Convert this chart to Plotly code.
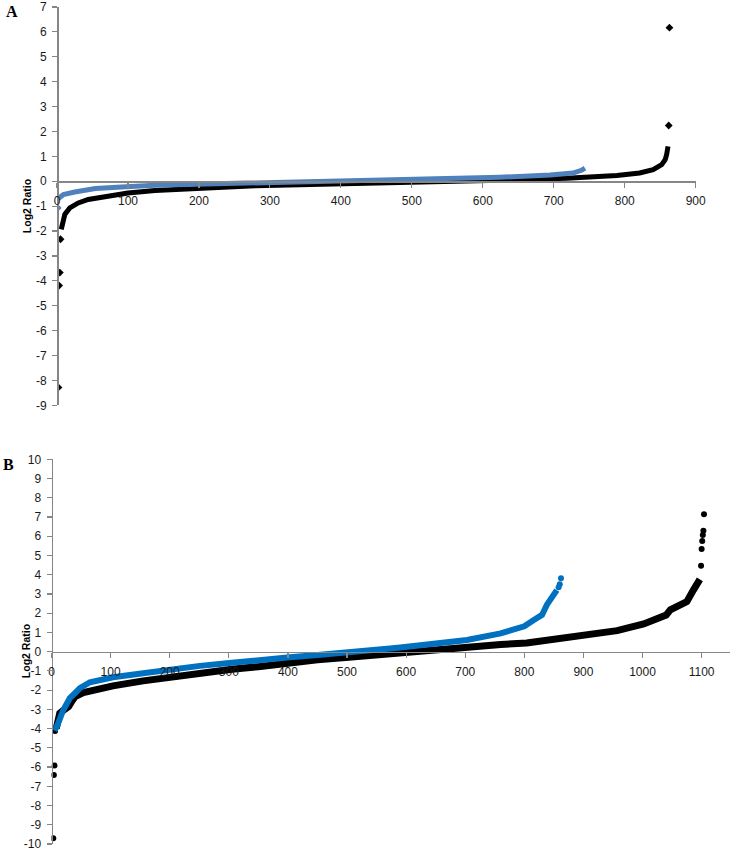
import plotly.graph_objects as go

# ---------------- Panel A data (index, log2 ratio) ----------------
a_black_x = [6, 8, 11, 18, 30, 44, 68, 100, 138, 185, 232, 279, 342, 436, 530, 624, 718, 789, 821, 840, 852, 857, 859, 861]
a_black_y = [-1.93, -1.66, -1.33, -1.07, -0.87, -0.73, -0.60, -0.47, -0.37, -0.29, -0.24, -0.18, -0.14, -0.09, -0.03, 0.04, 0.12, 0.23, 0.33, 0.47, 0.67, 0.87, 1.07, 1.40]
a_black_out_x = [2, 3, 4, 5, 862, 863]
a_black_out_y = [-8.28, -4.19, -3.67, -2.33, 2.24, 6.17]

a_blue_x = [2, 9, 25, 54, 91, 138, 209, 279, 342, 436, 530, 624, 695, 727, 739, 744]
a_blue_y = [-0.69, -0.53, -0.43, -0.29, -0.23, -0.16, -0.11, -0.07, -0.05, 0.02, 0.10, 0.16, 0.25, 0.33, 0.44, 0.53]
a_blue_out_x = [1]
a_blue_out_y = [-1.07]

# ---------------- Panel B data ----------------
b_black_x = [8, 11, 14, 20, 29, 35, 40, 54, 75, 104, 155, 206, 251, 305, 350, 403, 450, 503, 534, 560, 590, 647, 703, 760, 804, 850, 900, 957, 1002, 1030, 1040, 1047, 1058, 1069, 1075, 1086, 1097]
b_black_y = [-4.0, -3.72, -3.2, -3.05, -2.86, -2.55, -2.34, -2.13, -1.95, -1.78, -1.52, -1.30, -1.08, -0.92, -0.78, -0.57, -0.42, -0.29, -0.20, -0.13, -0.05, 0.09, 0.23, 0.37, 0.45, 0.62, 0.82, 1.09, 1.44, 1.73, 1.90, 2.17, 2.34, 2.46, 2.60, 3.20, 3.76]
b_black_out_x = [3, 4, 5, 6, 1099, 1100, 1101, 1102, 1103, 1104]
b_black_out_y = [-9.7, -6.41, -5.92, -4.12, 4.47, 5.34, 5.75, 6.06, 6.29, 7.14]

b_blue_x = [5, 9, 20, 31, 40, 48, 65, 104, 155, 206, 251, 305, 350, 403, 450, 503, 534, 568, 590, 647, 703, 760, 788, 800, 816, 830, 838, 846, 855]
b_blue_y = [-4.1, -3.9, -3.03, -2.42, -2.15, -1.9, -1.59, -1.33, -1.12, -0.90, -0.74, -0.58, -0.42, -0.29, -0.17, -0.05, 0.0, 0.15, 0.22, 0.41, 0.61, 0.95, 1.20, 1.32, 1.65, 1.91, 2.43, 2.78, 3.20]
b_blue_out_x = [858, 860, 862]
b_blue_out_y = [3.35, 3.50, 3.82]

x_ticks_a = list(range(0, 901, 100))
x_ticks_b = list(range(0, 1101, 100))
y_ticks_a = list(range(-9, 8))
y_ticks_b = list(range(-10, 11))

W, H = 734, 852
BLACK = "#000000"
BLUE_A = "#4F81BD"
BLUE_B = "#0070C0"
AXIS = "#868686"
TICKFONT = dict(family="Liberation Sans, Arial, sans-serif", size=12, color="#1a1a1a")

fig = go.Figure()

def add_series(x, y, ox, oy, color, width, symbol, msize, xa, ya):
    fig.add_trace(go.Scatter(x=x, y=y, mode="lines", line=dict(color=color, width=width),
                             xaxis=xa, yaxis=ya, showlegend=False, hoverinfo="skip"))
    fig.add_trace(go.Scatter(x=ox, y=oy, mode="markers",
                             marker=dict(color=color, size=msize, symbol=symbol),
                             xaxis=xa, yaxis=ya, showlegend=False, hoverinfo="skip"))

add_series(a_black_x, a_black_y, a_black_out_x, a_black_out_y, BLACK, 5, "diamond", 6, "x", "y")
add_series(a_blue_x, a_blue_y, a_blue_out_x, a_blue_out_y, BLUE_A, 5, "diamond", 6, "x", "y")
add_series(b_black_x, b_black_y, b_black_out_x, b_black_out_y, BLACK, 7, "circle", 6, "x2", "y2")
add_series(b_blue_x, b_blue_y, b_blue_out_x, b_blue_out_y, BLUE_B, 6, "circle", 6, "x2", "y2")

# pixel geometry -> paper fractions
def px(v):
    return v / W

def py(v):
    return 1 - v / H

ya_dom = [py(405.3), py(7.0)]
yb_dom = [py(844.0), py(459.3)]
xa_dom = [px(57.0), px(695.7)]
xb_dom = [px(51.5), px(730.0)]

ya_rng = [-9, 7]
yb_rng = [-10, 10]
pos_xa = ya_dom[0] + (0 - ya_rng[0]) / (ya_rng[1] - ya_rng[0]) * (ya_dom[1] - ya_dom[0])
pos_xb = yb_dom[0] + (0 - yb_rng[0]) / (yb_rng[1] - yb_rng[0]) * (yb_dom[1] - yb_dom[0])

common_axis = dict(showline=True, linecolor=AXIS, linewidth=1.5, ticks="outside", ticklen=5,
                   tickcolor=AXIS, tickwidth=1.2, showgrid=False, zeroline=False,
                   tickfont=TICKFONT, automargin=False, fixedrange=True,
                   ticklabeloverflow="allow", ticklabelstandoff=3)

def lbl(vals):
    return [str(v) for v in vals]

fig.update_layout(
    width=W, height=H, margin=dict(l=0, r=0, t=0, b=0),
    paper_bgcolor="white", plot_bgcolor="white",
    xaxis=dict(domain=xa_dom, range=[0, 900], anchor="free", position=pos_xa,
               tickvals=x_ticks_a, ticktext=lbl(x_ticks_a), **common_axis),
    yaxis=dict(domain=ya_dom, range=ya_rng, anchor="free", position=xa_dom[0],
               tickvals=y_ticks_a, ticktext=lbl(y_ticks_a), **common_axis),
    xaxis2=dict(domain=xb_dom, range=[0, 1148], anchor="free", position=pos_xb,
                tickvals=x_ticks_b, ticktext=lbl(x_ticks_b), **common_axis),
    yaxis2=dict(domain=yb_dom, range=yb_rng, anchor="free", position=xb_dom[0],
                tickvals=y_ticks_b, ticktext=lbl(y_ticks_b), **common_axis),
)

title_font = dict(family="Liberation Sans, Arial, sans-serif", size=10.5, color="#000000")
fig.add_annotation(text="<b>Log2 Ratio</b>", x=px(27), y=(ya_dom[0] + ya_dom[1]) / 2,
                   xref="paper", yref="paper", textangle=-90, showarrow=False, font=title_font,
                   xanchor="center", yanchor="middle")
fig.add_annotation(text="<b>Log2 Ratio</b>", x=px(25.5), y=(yb_dom[0] + yb_dom[1]) / 2,
                   xref="paper", yref="paper", textangle=-90, showarrow=False, font=title_font,
                   xanchor="center", yanchor="middle")

label_font = dict(family="Liberation Serif, Times New Roman, serif", size=16, color="#000000")
fig.add_annotation(text="<b>A</b>", x=px(12), y=py(11), xref="paper", yref="paper",
                   showarrow=False, font=label_font, xanchor="center", yanchor="middle")
fig.add_annotation(text="<b>B</b>", x=px(8), y=py(464), xref="paper", yref="paper",
                   showarrow=False, font=label_font, xanchor="center", yanchor="middle")

fig.write_html("out.html", config={"displayModeBar": False, "staticPlot": True},
               post_script="document.body.style.margin='0px';document.body.style.overflow='hidden';")
